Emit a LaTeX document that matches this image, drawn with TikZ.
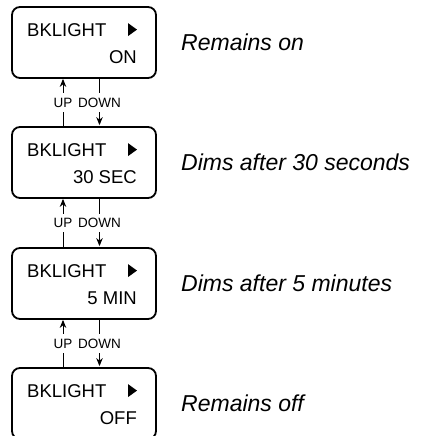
\documentclass[tikz,border=0pt]{standalone}
\usepackage{fontspec}
\setmainfont{Liberation Sans}
\usetikzlibrary{arrows.meta}
\begin{document}
\begin{tikzpicture}[x=1pt,y=-1pt,
  lcd/.style={draw=black,line width=1.8pt,rounded corners=8pt,minimum width=144pt,minimum height=71pt,inner sep=0pt},
  lcdtxt/.style={inner sep=0pt,font=\fontsize{18.5}{18.5}\selectfont},
  desc/.style={inner sep=0pt,anchor=base west,font=\fontsize{23}{23}\selectfont\itshape},
  updn/.style={inner xsep=0.3pt,inner ysep=4.5pt,fill=white,anchor=base,font=\fontsize{13.5}{13.5}\selectfont},
  arr/.style={line width=0.9pt,-{Stealth[length=8pt,width=6.5pt]}}]
\useasboundingbox (0,0) rectangle (422,436);
% boxes
\node[lcd] (b1) at (84,42.5) {};
\node[lcd] (b2) at (84,162.5) {};
\node[lcd] (b3) at (84,283.5) {};
\node[lcd] (b4) at (84,403.5) {};
% reference columns
\coordinate (txl) at (27,0);
\coordinate (txr) at (137,0);
\coordinate (upx) at (63,0);
\coordinate (dnx) at (99.5,0);
% box texts
\foreach \b/\v in {b1/ON,b2/30 SEC,b3/5 MIN,b4/OFF}{
  \node[lcdtxt,anchor=base west] (\b k) at ([yshift=-30pt]\b.north -| txl) {BKLIGHT};
  \node[lcdtxt,anchor=base east] (\b v) at ([yshift=-57pt]\b.north -| txr) {\v};
  \fill ([xshift=-9pt,yshift=-17pt]\b.north -| txr) -- ([yshift=-23.5pt]\b.north -| txr) -- ([xshift=-9pt,yshift=-30pt]\b.north -| txr) -- cycle;
}
% descriptions
\node[desc] (d1) at (181,51) {Remains on};
\node[desc] (d2) at (181,170.5) {Dims after 30 seconds};
\node[desc] (d3) at (181,291.5) {Dims after 5 minutes};
\node[desc] (d4) at (181,411.5) {Remains off};
% arrows
\foreach \pa/\pc in {b1/b2,b2/b3,b3/b4}{
  \draw[arr] (\pc.north -| upx) -- (\pa.south -| upx);
  \draw[arr] (\pa.south -| dnx) -- ([yshift=1pt]\pc.north -| dnx);
  \path (\pa.south) -- (\pc.north) coordinate[pos=0.6] (\pa mid);
  \node[updn] (\pa u) at (\pa mid -| upx) {UP};
  \node[updn] (\pa d) at (\pa mid -| dnx) {DOWN};
}
\end{tikzpicture}
\end{document}
